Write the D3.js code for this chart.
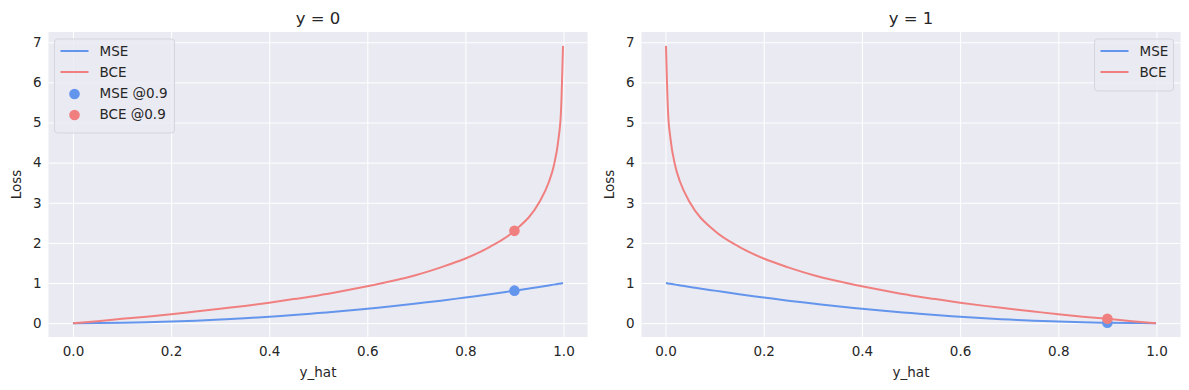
<!DOCTYPE html>
<html>
<head>
<meta charset="utf-8">
<script src="https://cdn.jsdelivr.net/npm/d3@7"></script>
<style>
body { margin: 0; background: #fff; }
text { font-family: "DejaVu Sans", sans-serif; fill: #262626; }
</style>
</head>
<body>
<script>
// values
let xLeft = [0, 0.05, 0.1, 0.15, 0.2, 0.25, 0.3, 0.35, 0.4, 0.45, 0.5, 0.55, 0.6, 0.65, 0.7, 0.75, 0.8, 0.85, 0.9, 0.95, 0.97, 0.98, 0.99, 0.995, 0.999];
let mseLeft = [0, 0.0025, 0.01, 0.0225, 0.04, 0.0625, 0.09, 0.12, 0.16, 0.2, 0.25, 0.3, 0.36, 0.42, 0.49, 0.56, 0.64, 0.72, 0.81, 0.9, 0.94, 0.96, 0.98, 0.99, 1.0];
let bceLeft = [0, 0.05, 0.11, 0.16, 0.22, 0.29, 0.36, 0.43, 0.51, 0.6, 0.69, 0.8, 0.92, 1.05, 1.2, 1.39, 1.61, 1.9, 2.3, 3.0, 3.51, 3.91, 4.61, 5.3, 6.91];

let xRight = [0.001, 0.005, 0.01, 0.02, 0.03, 0.05, 0.1, 0.15, 0.2, 0.25, 0.3, 0.35, 0.4, 0.45, 0.5, 0.55, 0.6, 0.65, 0.7, 0.75, 0.8, 0.85, 0.9, 0.95, 0.999];
let mseRight = [1.0, 0.99, 0.98, 0.96, 0.94, 0.9, 0.81, 0.72, 0.64, 0.56, 0.49, 0.42, 0.36, 0.3, 0.25, 0.2, 0.16, 0.12, 0.09, 0.06, 0.04, 0.02, 0.01, 0.0025, 0];
let bceRight = [6.91, 5.3, 4.61, 3.91, 3.51, 3.0, 2.3, 1.9, 1.61, 1.39, 1.2, 1.05, 0.92, 0.8, 0.69, 0.6, 0.51, 0.43, 0.36, 0.29, 0.22, 0.16, 0.11, 0.05, 0];

let markX = 0.9;
let markLeft = [0.81, 2.3];
let markRight = [0.01, 0.11];

let xTicks = [0, 0.2, 0.4, 0.6, 0.8, 1.0];
let yTicks = [0, 1, 2, 3, 4, 5, 6, 7];
let titles = ["y = 0", "y = 1"];

let width = 1189;
let height = 390;
let mseColor = "#6495ed";
let bceColor = "#f08080";

let svg = d3.select("body").append("svg").attr("width", width).attr("height", height);

function pad(ext) {
  let s = ext[1] - ext[0];
  return [ext[0] - 0.05 * s, ext[1] + 0.05 * s];
}

function panel(left, right, title, xs, mse, bce, marks, showMarksInLegend, legendLeft) {
  let top = 32, bottom = 337;
  let x = d3.scaleLinear().domain(pad(d3.extent(xs))).range([left, right]);
  let y = d3.scaleLinear().domain(pad([0, d3.max(bce)])).range([bottom, top]);

  let g = svg.append("g");
  g.append("rect")
    .attr("x", left).attr("y", top)
    .attr("width", right - left).attr("height", bottom - top)
    .attr("fill", "#eaeaf2");

  let xAxis = g.append("g")
    .attr("transform", `translate(0,${bottom})`)
    .call(d3.axisBottom(x).tickValues(xTicks).tickFormat(d3.format(".1f")).tickSize(-(bottom - top)).tickPadding(9));
  let yAxis = g.append("g")
    .attr("transform", `translate(${left},0)`)
    .call(d3.axisLeft(y).tickValues(yTicks).tickSize(-(right - left)).tickPadding(7));
  for (let a of [xAxis, yAxis]) {
    a.select(".domain").remove();
    a.selectAll("line").attr("stroke", "#fff").attr("stroke-width", 1);
    a.selectAll("text").attr("font-size", 13.5).attr("fill", "#262626")
      .style("font-family", "'DejaVu Sans', sans-serif");
  }

  let clipId = "clip" + Math.round(left);
  g.append("clipPath").attr("id", clipId).append("rect")
    .attr("x", left).attr("y", top).attr("width", right - left).attr("height", bottom - top);

  let line = d3.line().curve(d3.curveMonotoneX);
  let plot = g.append("g").attr("clip-path", `url(#${clipId})`);
  plot.append("path")
    .attr("d", line(xs.map((v, i) => [x(v), y(mse[i])])))
    .attr("fill", "none").attr("stroke", mseColor).attr("stroke-width", 2);
  plot.append("path")
    .attr("d", line(xs.map((v, i) => [x(v), y(bce[i])])))
    .attr("fill", "none").attr("stroke", bceColor).attr("stroke-width", 2);

  plot.append("circle").attr("cx", x(markX)).attr("cy", y(marks[0])).attr("r", 5.3).attr("fill", mseColor);
  plot.append("circle").attr("cx", x(markX)).attr("cy", y(marks[1])).attr("r", 5.3).attr("fill", bceColor);

  g.append("text")
    .attr("x", (left + right) / 2).attr("y", 24)
    .attr("text-anchor", "middle").attr("font-size", 16.5)
    .text(title);
  g.append("text")
    .attr("x", (left + right) / 2).attr("y", 377)
    .attr("text-anchor", "middle").attr("font-size", 13.5)
    .text("y_hat");
  g.append("text")
    .attr("transform", `translate(${left - 28},${(top + bottom) / 2}) rotate(-90)`)
    .attr("text-anchor", "middle").attr("font-size", 13.5)
    .text("Loss");

  // legend
  let items = [["MSE", mseColor, "line"], ["BCE", bceColor, "line"]];
  if (showMarksInLegend) {
    items.push(["MSE @0.9", mseColor, "dot"]);
    items.push(["BCE @0.9", bceColor, "dot"]);
  }
  let lw = showMarksInLegend ? 120 : 79;
  let lh = 10 + items.length * 21;
  let lx = legendLeft ? left + 6 : right - 7 - lw;
  let ly = 39;
  g.append("rect")
    .attr("x", lx).attr("y", ly).attr("width", lw).attr("height", lh)
    .attr("rx", 3).attr("fill", "#eaeaf2").attr("fill-opacity", 0.8)
    .attr("stroke", "#d5d5dd").attr("stroke-width", 1);
  items.forEach((it, i) => {
    let cy = ly + 12 + i * 21;
    if (it[2] == "line") {
      g.append("line")
        .attr("x1", lx + 6).attr("x2", lx + 34).attr("y1", cy).attr("y2", cy)
        .attr("stroke", it[1]).attr("stroke-width", 2);
    } else {
      g.append("circle").attr("cx", lx + 20).attr("cy", cy + 1).attr("r", 5.3).attr("fill", it[1]);
    }
    g.append("text")
      .attr("x", lx + 45).attr("y", cy + 5)
      .attr("font-size", 13.5)
      .text(it[0]);
  });
}

panel(48.5, 587.5, titles[0], xLeft, mseLeft, bceLeft, markLeft, true, true);
panel(641.5, 1180.5, titles[1], xRight, mseRight, bceRight, markRight, false, false);
</script>
</body>
</html>
